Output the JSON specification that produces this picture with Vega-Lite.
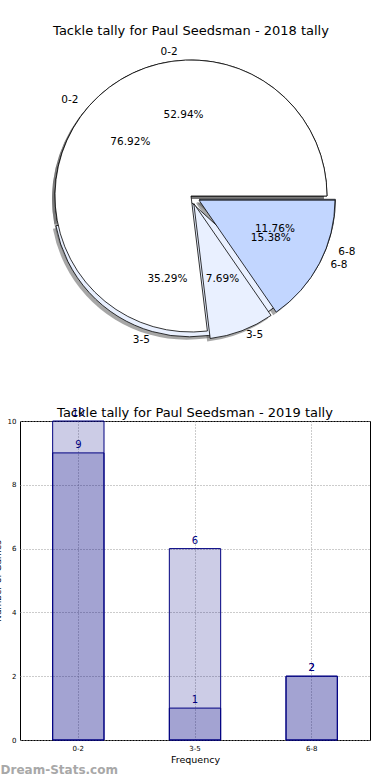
{
  "$schema": "https://vega.github.io/schema/vega-lite/v6.json",
  "background": "white",
  "padding": {"left": -8, "top": 25, "right": 0, "bottom": 0},
  "config": {
    "font": "DejaVu Sans",
    "view": {"stroke": null},
    "title": {"font": "DejaVu Sans", "fontWeight": "normal", "fontSize": 13, "color": "black"},
    "axis": {"labelFont": "DejaVu Sans", "titleFont": "DejaVu Sans", "labelColor": "black", "titleColor": "black"}
  },
  "title": {"text": "Dream-Stats.com", "orient": "bottom", "anchor": "start", "color": "#a8a8a8", "fontSize": 12, "fontWeight": "bold", "offset": 1, "dx": 8},
  "spacing": 59,
  "datasets": {
    "tally": [
      {"year": "2018", "range": "0-2", "count": 9},
      {"year": "2018", "range": "3-5", "count": 6},
      {"year": "2018", "range": "6-8", "count": 2},
      {"year": "2019", "range": "0-2", "count": 10},
      {"year": "2019", "range": "3-5", "count": 1},
      {"year": "2019", "range": "6-8", "count": 2}
    ]
  },
  "vconcat": [
    {
      "width": 342,
      "height": 302,
      "title": {"text": "Tackle tally for Paul Seedsman - 2018 tally", "offset": 7},
      "data": {"name": "tally"},
      "transform": [
        {"stack": "count", "groupby": ["year"], "sort": [{"field": "range", "order": "ascending"}], "offset": "normalize", "as": ["t0", "t1"]},
        {"joinaggregate": [{"op": "sum", "field": "count", "as": "total"}], "groupby": ["year"]},
        {"calculate": "datum.count / datum.total", "as": "share"}
      ],
      "layer": [
        {"transform": [{"filter": "datum.year==='2018' && datum.range==='0-2'"}], "mark": {"type": "arc", "radius": 136, "fill": "#4d4d4d", "opacity": 0.5, "xOffset": -3, "yOffset": 3}, "encoding": {"theta": {"field": "t0", "type": "quantitative", "scale": {"domain": [0, 1], "range": [1.5708, -4.7124]}}, "theta2": {"field": "t1"}}},
        {"transform": [{"filter": "datum.year==='2018' && datum.range==='3-5'"}], "mark": {"type": "arc", "radius": 136, "fill": "#4d4d4d", "opacity": 0.5, "xOffset": -4.4, "yOffset": 7.8}, "encoding": {"theta": {"field": "t0", "type": "quantitative", "scale": {"domain": [0, 1], "range": [1.5708, -4.7124]}}, "theta2": {"field": "t1"}}},
        {"transform": [{"filter": "datum.year==='2018' && datum.range==='6-8'"}], "mark": {"type": "arc", "radius": 136, "fill": "#4d4d4d", "opacity": 0.5, "xOffset": 5.4, "yOffset": 6.3}, "encoding": {"theta": {"field": "t0", "type": "quantitative", "scale": {"domain": [0, 1], "range": [1.5708, -4.7124]}}, "theta2": {"field": "t1"}}},
        {"transform": [{"filter": "datum.year==='2019' && datum.range==='0-2'"}], "mark": {"type": "arc", "radius": 136, "fill": "#4d4d4d", "opacity": 0.5, "xOffset": -3, "yOffset": 3}, "encoding": {"theta": {"field": "t0", "type": "quantitative", "scale": {"domain": [0, 1], "range": [1.5708, -4.7124]}}, "theta2": {"field": "t1"}}},
        {"transform": [{"filter": "datum.year==='2019' && datum.range==='3-5'"}], "mark": {"type": "arc", "radius": 136, "fill": "#4d4d4d", "opacity": 0.5, "xOffset": -0.2, "yOffset": 10.5}, "encoding": {"theta": {"field": "t0", "type": "quantitative", "scale": {"domain": [0, 1], "range": [1.5708, -4.7124]}}, "theta2": {"field": "t1"}}},
        {"transform": [{"filter": "datum.year==='2019' && datum.range==='6-8'"}], "mark": {"type": "arc", "radius": 136, "fill": "#4d4d4d", "opacity": 0.5, "xOffset": 5, "yOffset": 7.2}, "encoding": {"theta": {"field": "t0", "type": "quantitative", "scale": {"domain": [0, 1], "range": [1.5708, -4.7124]}}, "theta2": {"field": "t1"}}},

        {"transform": [{"filter": "datum.year==='2018' && datum.range==='0-2'"}], "mark": {"type": "arc", "radius": 136, "stroke": "black", "strokeWidth": 0.8}, "encoding": {"theta": {"field": "t0", "type": "quantitative", "scale": {"domain": [0, 1], "range": [1.5708, -4.7124]}}, "theta2": {"field": "t1"}, "fill": {"field": "range", "type": "nominal", "scale": {"domain": ["0-2", "3-5", "6-8"], "range": ["#ffffff", "#e9f0ff", "#c2d6ff"]}, "legend": null}}},
        {"transform": [{"filter": "datum.year==='2018' && datum.range==='3-5'"}], "mark": {"type": "arc", "radius": 136, "stroke": "black", "strokeWidth": 0.8, "xOffset": -1.4, "yOffset": 4.8}, "encoding": {"theta": {"field": "t0", "type": "quantitative", "scale": {"domain": [0, 1], "range": [1.5708, -4.7124]}}, "theta2": {"field": "t1"}, "fill": {"field": "range", "type": "nominal", "legend": null}}},
        {"transform": [{"filter": "datum.year==='2018' && datum.range==='6-8'"}], "mark": {"type": "arc", "radius": 136, "stroke": "black", "strokeWidth": 0.8, "xOffset": 8.4, "yOffset": 3.3}, "encoding": {"theta": {"field": "t0", "type": "quantitative", "scale": {"domain": [0, 1], "range": [1.5708, -4.7124]}}, "theta2": {"field": "t1"}, "fill": {"field": "range", "type": "nominal", "legend": null}}},
        {"transform": [{"filter": "datum.year==='2019' && datum.range==='0-2'"}], "mark": {"type": "arc", "radius": 136, "stroke": "black", "strokeWidth": 0.8}, "encoding": {"theta": {"field": "t0", "type": "quantitative", "scale": {"domain": [0, 1], "range": [1.5708, -4.7124]}}, "theta2": {"field": "t1"}, "fill": {"field": "range", "type": "nominal", "legend": null}}},
        {"transform": [{"filter": "datum.year==='2019' && datum.range==='3-5'"}], "mark": {"type": "arc", "radius": 136, "stroke": "black", "strokeWidth": 0.8, "xOffset": 2.8, "yOffset": 7.5}, "encoding": {"theta": {"field": "t0", "type": "quantitative", "scale": {"domain": [0, 1], "range": [1.5708, -4.7124]}}, "theta2": {"field": "t1"}, "fill": {"field": "range", "type": "nominal", "legend": null}}},
        {"transform": [{"filter": "datum.year==='2019' && datum.range==='6-8'"}], "mark": {"type": "arc", "radius": 136, "stroke": "black", "strokeWidth": 0.8, "xOffset": 8, "yOffset": 4.2}, "encoding": {"theta": {"field": "t0", "type": "quantitative", "scale": {"domain": [0, 1], "range": [1.5708, -4.7124]}}, "theta2": {"field": "t1"}, "fill": {"field": "range", "type": "nominal", "legend": null}}},

        {"transform": [{"filter": "datum.year==='2018'"}], "mark": {"type": "text", "radius": 81, "fontSize": 10.5}, "encoding": {"theta": {"field": "count", "type": "quantitative", "stack": "normalize", "scale": {"domain": [0, 1], "range": [1.5708, -4.7124]}}, "order": {"field": "range", "type": "ordinal", "sort": "ascending"}, "detail": {"field": "range"}, "text": {"condition": {"test": "datum.range==='0-2'", "field": "share", "format": ".2%"}, "value": ""}}},
        {"transform": [{"filter": "datum.year==='2018'"}], "mark": {"type": "text", "radius": 81, "fontSize": 10.5, "xOffset": -1.4, "yOffset": 4.8}, "encoding": {"theta": {"field": "count", "type": "quantitative", "stack": "normalize", "scale": {"domain": [0, 1], "range": [1.5708, -4.7124]}}, "order": {"field": "range", "type": "ordinal", "sort": "ascending"}, "detail": {"field": "range"}, "text": {"condition": {"test": "datum.range==='3-5'", "field": "share", "format": ".2%"}, "value": ""}}},
        {"transform": [{"filter": "datum.year==='2018'"}], "mark": {"type": "text", "radius": 81, "fontSize": 10.5, "xOffset": 8.4, "yOffset": 3.3}, "encoding": {"theta": {"field": "count", "type": "quantitative", "stack": "normalize", "scale": {"domain": [0, 1], "range": [1.5708, -4.7124]}}, "order": {"field": "range", "type": "ordinal", "sort": "ascending"}, "detail": {"field": "range"}, "text": {"condition": {"test": "datum.range==='6-8'", "field": "share", "format": ".2%"}, "value": ""}}},
        {"transform": [{"filter": "datum.year==='2019'"}], "mark": {"type": "text", "radius": 81, "fontSize": 10.5}, "encoding": {"theta": {"field": "count", "type": "quantitative", "stack": "normalize", "scale": {"domain": [0, 1], "range": [1.5708, -4.7124]}}, "order": {"field": "range", "type": "ordinal", "sort": "ascending"}, "detail": {"field": "range"}, "text": {"condition": {"test": "datum.range==='0-2'", "field": "share", "format": ".2%"}, "value": ""}}},
        {"transform": [{"filter": "datum.year==='2019'"}], "mark": {"type": "text", "radius": 81, "fontSize": 10.5, "xOffset": 2.8, "yOffset": 7.5}, "encoding": {"theta": {"field": "count", "type": "quantitative", "stack": "normalize", "scale": {"domain": [0, 1], "range": [1.5708, -4.7124]}}, "order": {"field": "range", "type": "ordinal", "sort": "ascending"}, "detail": {"field": "range"}, "text": {"condition": {"test": "datum.range==='3-5'", "field": "share", "format": ".2%"}, "value": ""}}},
        {"transform": [{"filter": "datum.year==='2019'"}], "mark": {"type": "text", "radius": 81, "fontSize": 10.5, "xOffset": 8, "yOffset": 4.2}, "encoding": {"theta": {"field": "count", "type": "quantitative", "stack": "normalize", "scale": {"domain": [0, 1], "range": [1.5708, -4.7124]}}, "order": {"field": "range", "type": "ordinal", "sort": "ascending"}, "detail": {"field": "range"}, "text": {"condition": {"test": "datum.range==='6-8'", "field": "share", "format": ".2%"}, "value": ""}}},

        {"transform": [{"filter": "datum.year==='2018'"}], "mark": {"type": "text", "radius": 145, "fontSize": 10.5, "align": "right"}, "encoding": {"theta": {"field": "count", "type": "quantitative", "stack": "normalize", "scale": {"domain": [0, 1], "range": [1.5708, -4.7124]}}, "order": {"field": "range", "type": "ordinal", "sort": "ascending"}, "detail": {"field": "range"}, "text": {"condition": {"test": "datum.range==='0-2'", "field": "range"}, "value": ""}}},
        {"transform": [{"filter": "datum.year==='2018'"}], "mark": {"type": "text", "radius": 145, "fontSize": 10.5, "align": "right", "xOffset": -1.4, "yOffset": 4.8}, "encoding": {"theta": {"field": "count", "type": "quantitative", "stack": "normalize", "scale": {"domain": [0, 1], "range": [1.5708, -4.7124]}}, "order": {"field": "range", "type": "ordinal", "sort": "ascending"}, "detail": {"field": "range"}, "text": {"condition": {"test": "datum.range==='3-5'", "field": "range"}, "value": ""}}},
        {"transform": [{"filter": "datum.year==='2018'"}], "mark": {"type": "text", "radius": 145, "fontSize": 10.5, "align": "left", "xOffset": 12, "yOffset": 3.3}, "encoding": {"theta": {"field": "count", "type": "quantitative", "stack": "normalize", "scale": {"domain": [0, 1], "range": [1.5708, -4.7124]}}, "order": {"field": "range", "type": "ordinal", "sort": "ascending"}, "detail": {"field": "range"}, "text": {"condition": {"test": "datum.range==='6-8'", "field": "range"}, "value": ""}}},
        {"transform": [{"filter": "datum.year==='2019'"}], "mark": {"type": "text", "radius": 145, "fontSize": 10.5, "align": "right", "xOffset": -4}, "encoding": {"theta": {"field": "count", "type": "quantitative", "stack": "normalize", "scale": {"domain": [0, 1], "range": [1.5708, -4.7124]}}, "order": {"field": "range", "type": "ordinal", "sort": "ascending"}, "detail": {"field": "range"}, "text": {"condition": {"test": "datum.range==='0-2'", "field": "range"}, "value": ""}}},
        {"transform": [{"filter": "datum.year==='2019'"}], "mark": {"type": "text", "radius": 145, "fontSize": 10.5, "align": "left", "xOffset": 3.5, "yOffset": 3}, "encoding": {"theta": {"field": "count", "type": "quantitative", "stack": "normalize", "scale": {"domain": [0, 1], "range": [1.5708, -4.7124]}}, "order": {"field": "range", "type": "ordinal", "sort": "ascending"}, "detail": {"field": "range"}, "text": {"condition": {"test": "datum.range==='3-5'", "field": "range"}, "value": ""}}},
        {"transform": [{"filter": "datum.year==='2019'"}], "mark": {"type": "text", "radius": 145, "fontSize": 10.5, "align": "left", "xOffset": 11, "yOffset": 2}, "encoding": {"theta": {"field": "count", "type": "quantitative", "stack": "normalize", "scale": {"domain": [0, 1], "range": [1.5708, -4.7124]}}, "order": {"field": "range", "type": "ordinal", "sort": "ascending"}, "detail": {"field": "range"}, "text": {"condition": {"test": "datum.range==='6-8'", "field": "range"}, "value": ""}}}
      ]
    },
    {
      "width": 350,
      "height": 319,
      "view": {"stroke": "black", "strokeWidth": 1},
      "title": {"text": "Tackle tally for Paul Seedsman - 2019 tally", "offset": -12},
      "data": {"name": "tally"},
      "encoding": {
        "x": {"field": "range", "type": "nominal", "scale": {"paddingInner": 0, "paddingOuter": 0},
              "axis": {"labelAngle": 0, "labelFontSize": 7, "labelPadding": 4, "tickSize": 0, "domain": false, "grid": true, "gridDash": [1, 2], "gridColor": "#999999", "bandPosition": 0.5, "title": "Frequency", "titleFontSize": 9.5, "titleFontWeight": "normal", "titlePadding": 3}},
        "y": {"field": "count", "type": "quantitative", "stack": null, "scale": {"domain": [0, 10], "nice": false},
              "axis": {"values": [0, 2, 4, 6, 8, 10], "labelFontSize": 7, "labelPadding": 4, "tickSize": 0, "domain": false, "grid": true, "gridDash": [1, 2], "gridColor": "#999999", "title": "Number of Games", "titleFontSize": 9, "titleFontWeight": "normal", "titlePadding": 5}}
      },
      "layer": [
        {"mark": {"type": "bar", "fill": "#000080", "fillOpacity": 0.2, "stroke": "#000080", "strokeWidth": 1, "width": {"band": 0.44}}},
        {"mark": {"type": "text", "color": "#000080", "fontSize": 10, "baseline": "bottom", "dy": -3}, "encoding": {"text": {"field": "count"}}}
      ]
    }
  ]
}
